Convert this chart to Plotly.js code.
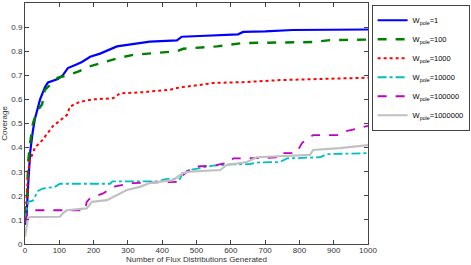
<!DOCTYPE html>
<html><head><meta charset="utf-8">
<script src="https://cdn.plot.ly/plotly-3.0.1.min.js"></script>
<style>html,body{margin:0;padding:0;background:#fff}#c{width:471px;height:265px}</style>
</head><body><div id="c"></div>
<script>
const seriesNames = ["W<sub>pole</sub>=1","W<sub>pole</sub>=100","W<sub>pole</sub>=1000","W<sub>pole</sub>=10000","W<sub>pole</sub>=100000","W<sub>pole</sub>=1000000"];

const w1x = [0,2,5,9,15,23,29,44,58,67,87,96,110,125,150,166,190,219,268,315,364,443,457,510,560,621,636,700,781,900,1000];
const w1y = [0.08,0.10,0.13,0.24,0.38,0.47,0.52,0.60,0.65,0.67,0.68,0.685,0.70,0.73,0.745,0.755,0.777,0.79,0.82,0.83,0.84,0.845,0.86,0.863,0.865,0.87,0.88,0.882,0.888,0.889,0.89];

const w100x = [0,2,6,9,15,23,35,50,58,79,96,125,155,184,219,268,315,394,443,461,510,560,636,700,840,889,1000];
const w100y = [0.12,0.16,0.18,0.34,0.42,0.50,0.55,0.58,0.64,0.67,0.69,0.70,0.715,0.735,0.75,0.77,0.785,0.795,0.80,0.81,0.815,0.82,0.834,0.835,0.838,0.846,0.848];

const w1000x = [0,1,5,9,15,29,50,67,82,100,122,131,160,198,257,277,344,423,452,510,548,640,743,870,1000];
const w1000y = [0.09,0.10,0.20,0.30,0.35,0.40,0.43,0.46,0.49,0.51,0.535,0.57,0.59,0.60,0.605,0.625,0.63,0.64,0.65,0.66,0.668,0.672,0.68,0.685,0.69];

const w10000x = [0,3,9,23,38,52,87,102,248,255,385,414,452,461,481,548,598,656,676,743,764,860,880,1000];
const w10000y = [0.09,0.13,0.175,0.18,0.22,0.23,0.237,0.25,0.25,0.26,0.26,0.27,0.27,0.30,0.307,0.325,0.33,0.332,0.338,0.34,0.355,0.36,0.373,0.377];

const w100000x = [0,3,9,23,175,180,190,228,257,315,443,461,490,560,598,607,694,743,750,790,796,808,840,910,927,1000];
const w100000y = [0.09,0.11,0.13,0.14,0.14,0.175,0.19,0.21,0.237,0.253,0.258,0.286,0.32,0.328,0.34,0.355,0.357,0.36,0.377,0.377,0.39,0.42,0.452,0.452,0.465,0.49];

const w1000000x = [0,3,9,20,102,111,122,180,195,239,268,297,335,364,431,461,481,569,588,647,676,743,831,840,918,1000];
const w1000000y = [0.03,0.06,0.11,0.112,0.113,0.128,0.14,0.148,0.175,0.182,0.203,0.224,0.237,0.253,0.265,0.294,0.30,0.307,0.328,0.34,0.36,0.365,0.37,0.39,0.398,0.41];

const yTicks = [0,0.1,0.2,0.3,0.4,0.5,0.6,0.7,0.8,0.9,1];
const xTicks = [0,100,200,300,400,500,600,700,800,900,1000];

const xs = [w1x,w100x,w1000x,w10000x,w100000x,w1000000x];
const ys = [w1y,w100y,w1000y,w10000y,w100000y,w1000000y];
const colors = ["#0000ff","#008000","#ff0000","#00bfbf","#bf00bf","#c0c0c0"];
const dashes = ["solid","dash","dot","dashdot","dash","solid"];
const widths = [2.2,2.4,2,1.8,1.8,2.2];

const traces = seriesNames.map((n,i)=>({
  x: xs[i], y: ys[i], name: n, type:"scatter", mode:"lines",
  line:{color:colors[i], dash:dashes[i], width:widths[i]}
}));

const fam = "Liberation Sans, Arial";
const axisCommon = {
  showline:true, mirror:"ticks", linecolor:"#444", linewidth:1,
  ticks:"inside", ticklen:4, tickcolor:"#444", showgrid:false, zeroline:false,
  automargin:false,
  tickfont:{family:fam, size:8, color:"#333"}
};

const layout = {
  width:471, height:265,
  margin:{l:25,r:103,t:3,b:21},
  paper_bgcolor:"#fff", plot_bgcolor:"#fff",
  showlegend:true,
  legend:{xref:"container",yref:"container",x:0.789,y:0.982,xanchor:"left",yanchor:"top",
    bordercolor:"#444",borderwidth:1,
    font:{family:fam,size:7.5,color:"#000"},tracegroupgap:0,itemwidth:30},
  xaxis:Object.assign({},axisCommon,{range:[0,1000],tickvals:xTicks,ticktext:xTicks.map(String),ticklabelstandoff:-2}),
  yaxis:Object.assign({},axisCommon,{range:[0,1],tickvals:yTicks,ticktext:yTicks.map(String),
    title:{text:"Coverage",font:{family:fam,size:8,color:"#333"},standoff:4}}),
  annotations:[{text:"Number of Flux Distributions Generated",xref:"paper",yref:"paper",
    x:0.5,y:-0.064,xanchor:"center",yanchor:"middle",showarrow:false,
    font:{family:fam,size:8,color:"#333"}}]
};

Plotly.newPlot("c",traces,layout,{displayModeBar:false,staticPlot:true});
</script></body></html>
